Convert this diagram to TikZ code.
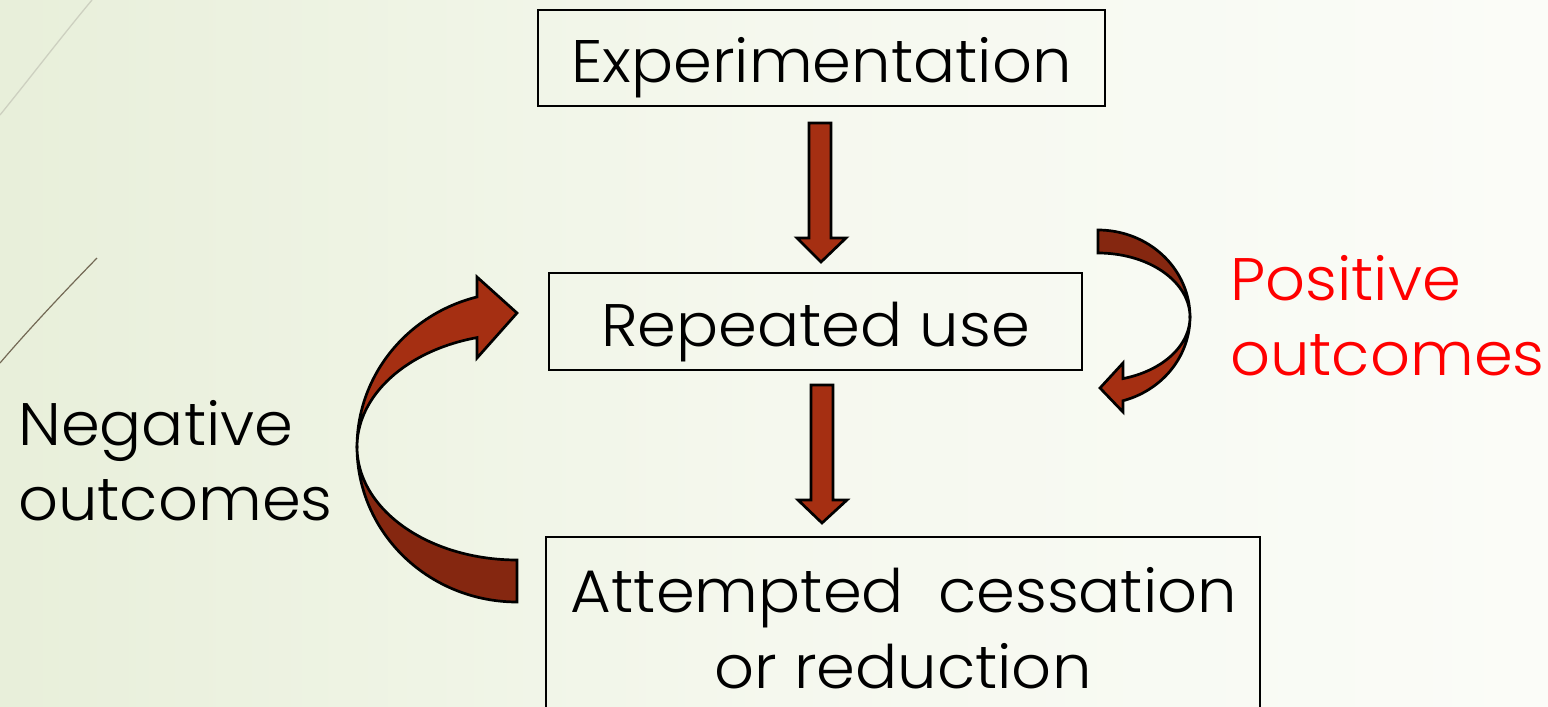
\documentclass[tikz,border=0pt]{standalone}
\usepackage{fontspec}
\setmainfont{Poppins}[UprightFont=* Light, FakeStretch=1.04]
\usetikzlibrary{calc}
\definecolor{bgL}{RGB}{232,239,218}
\definecolor{bgM}{RGB}{245,248,238}
\definecolor{bgR}{RGB}{251,252,248}
\definecolor{arrL}{RGB}{165,47,18}
\definecolor{arrD}{RGB}{133,39,16}
\definecolor{decoA}{RGB}{205,208,192}
\definecolor{decoB}{RGB}{115,105,85}
\begin{document}
\begin{tikzpicture}[x=1pt,y=-1pt,
  box/.style={draw=black, line width=1.2pt, inner sep=0pt},
  lbl/.style={font=\fontsize{60}{72}\selectfont, inner sep=0pt, anchor=base},
  lightarrow/.style={fill=arrL, draw=black, line width=2.7pt, line join=miter},
  darkarrow/.style={fill=arrD, draw=black, line width=2.7pt, line join=miter}]
\useasboundingbox (0,0) rectangle (1548,707);
\fill[left color=bgL, right color=bgR, middle color=bgM] (0,0) rectangle (1548,707);
% decorative lines
\draw[decoA, line width=1.3pt] (0,115) .. controls (30,78) and (62,36) .. (92,0);
\draw[decoB, line width=1.2pt] (0,363) .. controls (30,328) and (64,292) .. (97,258);
% boxes
\node[box, minimum width=567, minimum height=96] (exp) at (821.5,58) {};
\node[box, minimum width=533, minimum height=97] (rep) at (815.5,321.5) {};
\node[box, minimum width=714, minimum height=190] (att) at (903,632) {};
% box texts
\node[lbl] (expt) at ($(exp.center)+(0,24)$) {Experimentation};
\node[lbl] (rept) at ($(rep.center)+(0,24.5)$) {Repeated use};
\node[lbl] (att1) at (904,612) {Attempted~ cessation};
\node[lbl] (att2) at (903,688) {or reduction};
% side texts
\node[lbl, anchor=base west] (neg1) at (18,445) {Negative};
\node[lbl, anchor=base west] (neg2) at (18,520) {outcomes};
\node[lbl, anchor=base west, text=red] (pos1) at (1230,300) {Positive};
\node[lbl, anchor=base west, text=red] (pos2) at (1230,375) {outcomes};
% straight block arrows
\coordinate (a1e) at (821,262);
\draw[lightarrow] (809,123) -- (831,123) -- (831,238) -- (846,238) -- (a1e)
  -- (797,238) -- (809,238) -- cycle;
\coordinate (a2e) at (822,523);
\draw[lightarrow] (811,385) -- (833,385) -- (833,500) -- (847,500) -- (a2e)
  -- (798,500) -- (811,500) -- cycle;
% left curved arrow (negative outcomes)
\draw[darkarrow] plot[domain=180:90, samples=50] ({517+160*cos(\x)},{447+155*sin(\x)})
  -- plot[domain=90:180, samples=50] ({517+160*cos(\x)},{447+113*sin(\x)}) -- cycle;
\draw[lightarrow] plot[domain=180:255.5, samples=50] ({517+160*cos(\x)},{447+155*sin(\x)})
  -- (477,277) -- (517,313) -- (477,358)
  -- plot[domain=255.5:180, samples=50] ({517+160*cos(\x)},{447+113*sin(\x)}) -- cycle;
% right curved arrow (positive outcomes)
\draw[darkarrow] plot[domain=270:360, samples=50] ({1098+92*cos(\x)},{317+87*sin(\x)})
  -- plot[domain=360:270, samples=50] ({1098+92*cos(\x)},{317+64*sin(\x)}) -- cycle;
\draw[lightarrow] plot[domain=0:74.2, samples=50] ({1098+92*cos(\x)},{317+87*sin(\x)})
  -- (1123,412) -- (1100,388) -- (1123,363)
  -- plot[domain=74.2:0, samples=50] ({1098+92*cos(\x)},{317+64*sin(\x)}) -- cycle;
\end{tikzpicture}
\end{document}
